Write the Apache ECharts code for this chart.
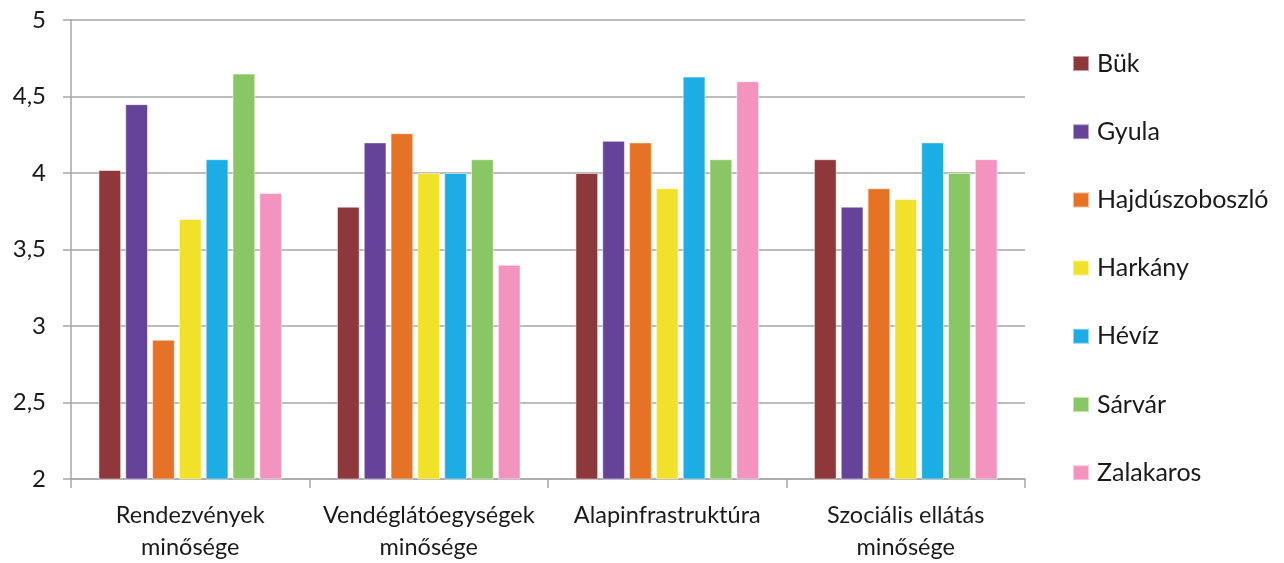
<!DOCTYPE html>
<html>
<head>
<meta charset="utf-8">
<script src="https://cdn.jsdelivr.net/npm/echarts@6/dist/echarts.min.js"></script>
<style>
  html, body { margin: 0; padding: 0; background: #ffffff; }
  #chart { width: 1284px; height: 563px; }
</style>
</head>
<body>
<div id="chart"></div>
<script>
// Survey ratings of spa towns, by aspect
const categories = ['Rendezvények\nminősége', 'Vendéglátóegységek\nminősége', 'Alapinfrastruktúra', 'Szociális ellátás\nminősége'];

const buk        = [4.02, 3.78, 4.00, 4.09];
const gyula      = [4.45, 4.20, 4.21, 3.78];
const hajdu      = [2.91, 4.26, 4.20, 3.90];
const harkany    = [3.70, 4.00, 3.90, 3.83];
const heviz      = [4.09, 4.00, 4.63, 4.20];
const sarvar     = [4.65, 4.09, 4.09, 4.00];
const zalakaros  = [3.87, 3.40, 4.60, 4.09];

const seriesNames  = ['Bük', 'Gyula', 'Hajdúszoboszló', 'Harkány', 'Hévíz', 'Sárvár', 'Zalakaros'];
const seriesValues = [buk, gyula, hajdu, harkany, heviz, sarvar, zalakaros];
const seriesColors = ['#8E383B', '#654398', '#E67225', '#F2E12A', '#1BADE3', '#89C764', '#F294BE'];

const fontFamily = 'Lato, "Open Sans", "Noto Sans", sans-serif';
const gridGrey = '#a6a6a6';

const chart = echarts.init(document.getElementById('chart'), null, { renderer: 'canvas' });

chart.setOption({
  animation: false,
  backgroundColor: '#ffffff',
  grid: { left: 71, right: 259, top: 20, bottom: 80, containLabel: false },
  legend: {
    orient: 'vertical',
    left: 1072,
    top: 51,
    padding: 0,
    itemWidth: 16,
    itemHeight: 15,
    itemGap: 43.2,
    icon: 'rect',
    textStyle: {
      fontFamily: fontFamily, fontSize: 25, color: '#1a1a1a',
      lineHeight: 16, padding: [0, 0, 0, 3]
    },
    data: seriesNames
  },
  xAxis: {
    type: 'category',
    data: categories,
    axisLine: { lineStyle: { color: gridGrey, width: 1.5 } },
    axisTick: { show: true, length: 9, lineStyle: { color: gridGrey, width: 1.5 } },
    axisLabel: {
      fontFamily: fontFamily, fontSize: 23.5, color: '#1a1a1a',
      lineHeight: 32, margin: 20, interval: 0
    }
  },
  yAxis: {
    type: 'value',
    min: 2,
    max: 5,
    interval: 0.5,
    axisLine: { show: true, lineStyle: { color: gridGrey, width: 1.5 } },
    axisTick: { show: true, length: 8, lineStyle: { color: gridGrey, width: 1.5 } },
    splitLine: { lineStyle: { color: gridGrey, width: 1.5 } },
    axisLabel: {
      fontFamily: fontFamily, fontSize: 24, color: '#1a1a1a', margin: 25,
      formatter: v => String(v).replace('.', ',')
    }
  },
  series: seriesNames.map((name, i) => ({
    name: name,
    type: 'bar',
    data: seriesValues[i],
    barCategoryGap: '23%',
    barGap: '18%',
    itemStyle: { color: seriesColors[i], borderColor: 'rgba(255,255,255,0.5)', borderWidth: 1 }
  }))
});
</script>
</body>
</html>
